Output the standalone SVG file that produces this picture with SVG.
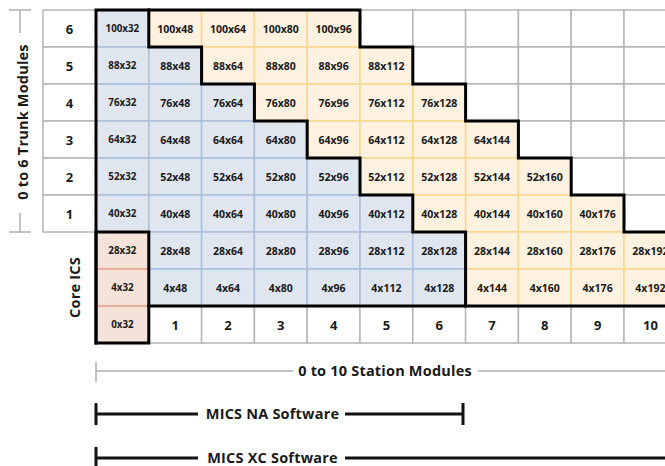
<svg xmlns="http://www.w3.org/2000/svg" width="665" height="466" viewBox="0 0 665 466">
<style>
rect{stroke-width:1.5}
.w{fill:#ffffff;stroke:#b5b5b5}
.o{fill:#fdf1e0;stroke:#f7d88e}
.b{fill:#dfe6ef;stroke:#a9c0dd}
.p{fill:#f5e2d8;stroke:#e7a28f}
text{font-family:"Open Sans","Liberation Sans",sans-serif;fill:#1a1a1a;text-anchor:middle}
.t{font-size:10.5px;font-weight:700;dominant-baseline:central}
.s{font-size:9.8px;font-weight:700}
.n{font-size:13px;font-weight:700;dominant-baseline:central}
.lbl{font-size:14.5px;font-weight:700;letter-spacing:0.2px}
.thick{fill:none;stroke:#000;stroke-width:3;stroke-linejoin:miter;stroke-linecap:square}
.grey{fill:none;stroke:#b0b0b0;stroke-width:1.5}
.blk{fill:none;stroke:#111;stroke-width:3}
</style>

<g id="row-labels">
<g id="rl6"><rect class="w" x="43" y="10" width="53" height="37"/><text class="n" x="69.5" y="28.5">6</text></g>
<g id="rl5"><rect class="w" x="43" y="47" width="53" height="37"/><text class="n" x="69.5" y="65.5">5</text></g>
<g id="rl4"><rect class="w" x="43" y="84" width="53" height="37"/><text class="n" x="69.5" y="102.5">4</text></g>
<g id="rl3"><rect class="w" x="43" y="121" width="53" height="37"/><text class="n" x="69.5" y="139.5">3</text></g>
<g id="rl2"><rect class="w" x="43" y="158" width="53" height="37"/><text class="n" x="69.5" y="176.5">2</text></g>
<g id="rl1"><rect class="w" x="43" y="195" width="53" height="37"/><text class="n" x="69.5" y="213.5">1</text></g>
</g>

<g id="white-cells">
<rect class="w" x="360" y="10" width="52.8" height="37"/>
<rect class="w" x="412.8" y="10" width="52.8" height="37"/>
<rect class="w" x="465.6" y="10" width="52.8" height="37"/>
<rect class="w" x="518.4" y="10" width="52.8" height="37"/>
<rect class="w" x="571.2" y="10" width="52.8" height="37"/>
<rect class="w" x="624" y="10" width="52.8" height="37"/>
<rect class="w" x="412.8" y="47" width="52.8" height="37"/>
<rect class="w" x="465.6" y="47" width="52.8" height="37"/>
<rect class="w" x="518.4" y="47" width="52.8" height="37"/>
<rect class="w" x="571.2" y="47" width="52.8" height="37"/>
<rect class="w" x="624" y="47" width="52.8" height="37"/>
<rect class="w" x="465.6" y="84" width="52.8" height="37"/>
<rect class="w" x="518.4" y="84" width="52.8" height="37"/>
<rect class="w" x="571.2" y="84" width="52.8" height="37"/>
<rect class="w" x="624" y="84" width="52.8" height="37"/>
<rect class="w" x="518.4" y="121" width="52.8" height="37"/>
<rect class="w" x="571.2" y="121" width="52.8" height="37"/>
<rect class="w" x="624" y="121" width="52.8" height="37"/>
<rect class="w" x="571.2" y="158" width="52.8" height="37"/>
<rect class="w" x="624" y="158" width="52.8" height="37"/>
<rect class="w" x="624" y="195" width="52.8" height="37"/>
</g>

<g id="station-numbers">
<g id="s1"><rect class="w" x="148.8" y="306" width="52.8" height="37"/><text class="n" x="175.2" y="324.5">1</text></g>
<g id="s2"><rect class="w" x="201.6" y="306" width="52.8" height="37"/><text class="n" x="228" y="324.5">2</text></g>
<g id="s3"><rect class="w" x="254.4" y="306" width="52.8" height="37"/><text class="n" x="280.8" y="324.5">3</text></g>
<g id="s4"><rect class="w" x="307.2" y="306" width="52.8" height="37"/><text class="n" x="333.6" y="324.5">4</text></g>
<g id="s5"><rect class="w" x="360" y="306" width="52.8" height="37"/><text class="n" x="386.4" y="324.5">5</text></g>
<g id="s6"><rect class="w" x="412.8" y="306" width="52.8" height="37"/><text class="n" x="439.2" y="324.5">6</text></g>
<g id="s7"><rect class="w" x="465.6" y="306" width="52.8" height="37"/><text class="n" x="492" y="324.5">7</text></g>
<g id="s8"><rect class="w" x="518.4" y="306" width="52.8" height="37"/><text class="n" x="544.8" y="324.5">8</text></g>
<g id="s9"><rect class="w" x="571.2" y="306" width="52.8" height="37"/><text class="n" x="597.6" y="324.5">9</text></g>
<g id="s10"><rect class="w" x="624" y="306" width="52.8" height="37"/><text class="n" x="650.4" y="324.5">10</text></g>
</g>

<g id="orange-cells">
<g id="c100x48"><rect class="o" x="148.8" y="10" width="52.8" height="37"/><text class="t" x="175.2" y="28.5">100x48</text></g>
<g id="c100x64"><rect class="o" x="201.6" y="10" width="52.8" height="37"/><text class="t" x="228" y="28.5">100x64</text></g>
<g id="c100x80"><rect class="o" x="254.4" y="10" width="52.8" height="37"/><text class="t" x="280.8" y="28.5">100x80</text></g>
<g id="c100x96"><rect class="o" x="307.2" y="10" width="52.8" height="37"/><text class="t" x="333.6" y="28.5">100x96</text></g>
<g id="c88x64"><rect class="o" x="201.6" y="47" width="52.8" height="37"/><text class="t" x="228" y="65.5">88x64</text></g>
<g id="c88x80"><rect class="o" x="254.4" y="47" width="52.8" height="37"/><text class="t" x="280.8" y="65.5">88x80</text></g>
<g id="c88x96"><rect class="o" x="307.2" y="47" width="52.8" height="37"/><text class="t" x="333.6" y="65.5">88x96</text></g>
<g id="c88x112"><rect class="o" x="360" y="47" width="52.8" height="37"/><text class="t" x="386.4" y="65.5">88x112</text></g>
<g id="c76x80"><rect class="o" x="254.4" y="84" width="52.8" height="37"/><text class="t" x="280.8" y="102.5">76x80</text></g>
<g id="c76x96"><rect class="o" x="307.2" y="84" width="52.8" height="37"/><text class="t" x="333.6" y="102.5">76x96</text></g>
<g id="c76x112"><rect class="o" x="360" y="84" width="52.8" height="37"/><text class="t" x="386.4" y="102.5">76x112</text></g>
<g id="c76x128"><rect class="o" x="412.8" y="84" width="52.8" height="37"/><text class="t" x="439.2" y="102.5">76x128</text></g>
<g id="c64x96"><rect class="o" x="307.2" y="121" width="52.8" height="37"/><text class="t" x="333.6" y="139.5">64x96</text></g>
<g id="c64x112"><rect class="o" x="360" y="121" width="52.8" height="37"/><text class="t" x="386.4" y="139.5">64x112</text></g>
<g id="c64x128"><rect class="o" x="412.8" y="121" width="52.8" height="37"/><text class="t" x="439.2" y="139.5">64x128</text></g>
<g id="c64x144"><rect class="o" x="465.6" y="121" width="52.8" height="37"/><text class="t" x="492" y="139.5">64x144</text></g>
<g id="c52x112"><rect class="o" x="360" y="158" width="52.8" height="37"/><text class="t" x="386.4" y="176.5">52x112</text></g>
<g id="c52x128"><rect class="o" x="412.8" y="158" width="52.8" height="37"/><text class="t" x="439.2" y="176.5">52x128</text></g>
<g id="c52x144"><rect class="o" x="465.6" y="158" width="52.8" height="37"/><text class="t" x="492" y="176.5">52x144</text></g>
<g id="c52x160"><rect class="o" x="518.4" y="158" width="52.8" height="37"/><text class="t" x="544.8" y="176.5">52x160</text></g>
<g id="c40x128"><rect class="o" x="412.8" y="195" width="52.8" height="37"/><text class="t" x="439.2" y="213.5">40x128</text></g>
<g id="c40x144"><rect class="o" x="465.6" y="195" width="52.8" height="37"/><text class="t" x="492" y="213.5">40x144</text></g>
<g id="c40x160"><rect class="o" x="518.4" y="195" width="52.8" height="37"/><text class="t" x="544.8" y="213.5">40x160</text></g>
<g id="c40x176"><rect class="o" x="571.2" y="195" width="52.8" height="37"/><text class="t" x="597.6" y="213.5">40x176</text></g>
<g id="c28x144"><rect class="o" x="465.6" y="232" width="52.8" height="37"/><text class="t" x="492" y="250.5">28x144</text></g>
<g id="c28x160"><rect class="o" x="518.4" y="232" width="52.8" height="37"/><text class="t" x="544.8" y="250.5">28x160</text></g>
<g id="c28x176"><rect class="o" x="571.2" y="232" width="52.8" height="37"/><text class="t" x="597.6" y="250.5">28x176</text></g>
<g id="c28x192"><rect class="o" x="624" y="232" width="52.8" height="37"/><text class="t" x="650.4" y="250.5">28x192</text></g>
<g id="c4x144"><rect class="o" x="465.6" y="269" width="52.8" height="37"/><text class="t" x="492" y="287.5">4x144</text></g>
<g id="c4x160"><rect class="o" x="518.4" y="269" width="52.8" height="37"/><text class="t" x="544.8" y="287.5">4x160</text></g>
<g id="c4x176"><rect class="o" x="571.2" y="269" width="52.8" height="37"/><text class="t" x="597.6" y="287.5">4x176</text></g>
<g id="c4x192"><rect class="o" x="624" y="269" width="52.8" height="37"/><text class="t" x="650.4" y="287.5">4x192</text></g>
</g>

<g id="blue-cells">
<g id="c100x32"><rect class="b" x="96" y="10" width="52.8" height="37"/><text class="t s" x="122.4" y="28.5">100x32</text></g>
<g id="c88x32"><rect class="b" x="96" y="47" width="52.8" height="37"/><text class="t s" x="122.4" y="65.5">88x32</text></g>
<g id="c88x48"><rect class="b" x="148.8" y="47" width="52.8" height="37"/><text class="t" x="175.2" y="65.5">88x48</text></g>
<g id="c76x32"><rect class="b" x="96" y="84" width="52.8" height="37"/><text class="t s" x="122.4" y="102.5">76x32</text></g>
<g id="c76x48"><rect class="b" x="148.8" y="84" width="52.8" height="37"/><text class="t" x="175.2" y="102.5">76x48</text></g>
<g id="c76x64"><rect class="b" x="201.6" y="84" width="52.8" height="37"/><text class="t" x="228" y="102.5">76x64</text></g>
<g id="c64x32"><rect class="b" x="96" y="121" width="52.8" height="37"/><text class="t s" x="122.4" y="139.5">64x32</text></g>
<g id="c64x48"><rect class="b" x="148.8" y="121" width="52.8" height="37"/><text class="t" x="175.2" y="139.5">64x48</text></g>
<g id="c64x64"><rect class="b" x="201.6" y="121" width="52.8" height="37"/><text class="t" x="228" y="139.5">64x64</text></g>
<g id="c64x80"><rect class="b" x="254.4" y="121" width="52.8" height="37"/><text class="t" x="280.8" y="139.5">64x80</text></g>
<g id="c52x32"><rect class="b" x="96" y="158" width="52.8" height="37"/><text class="t s" x="122.4" y="176.5">52x32</text></g>
<g id="c52x48"><rect class="b" x="148.8" y="158" width="52.8" height="37"/><text class="t" x="175.2" y="176.5">52x48</text></g>
<g id="c52x64"><rect class="b" x="201.6" y="158" width="52.8" height="37"/><text class="t" x="228" y="176.5">52x64</text></g>
<g id="c52x80"><rect class="b" x="254.4" y="158" width="52.8" height="37"/><text class="t" x="280.8" y="176.5">52x80</text></g>
<g id="c52x96"><rect class="b" x="307.2" y="158" width="52.8" height="37"/><text class="t" x="333.6" y="176.5">52x96</text></g>
<g id="c40x32"><rect class="b" x="96" y="195" width="52.8" height="37"/><text class="t s" x="122.4" y="213.5">40x32</text></g>
<g id="c40x48"><rect class="b" x="148.8" y="195" width="52.8" height="37"/><text class="t" x="175.2" y="213.5">40x48</text></g>
<g id="c40x64"><rect class="b" x="201.6" y="195" width="52.8" height="37"/><text class="t" x="228" y="213.5">40x64</text></g>
<g id="c40x80"><rect class="b" x="254.4" y="195" width="52.8" height="37"/><text class="t" x="280.8" y="213.5">40x80</text></g>
<g id="c40x96"><rect class="b" x="307.2" y="195" width="52.8" height="37"/><text class="t" x="333.6" y="213.5">40x96</text></g>
<g id="c40x112"><rect class="b" x="360" y="195" width="52.8" height="37"/><text class="t" x="386.4" y="213.5">40x112</text></g>
<g id="c28x48"><rect class="b" x="148.8" y="232" width="52.8" height="37"/><text class="t" x="175.2" y="250.5">28x48</text></g>
<g id="c28x64"><rect class="b" x="201.6" y="232" width="52.8" height="37"/><text class="t" x="228" y="250.5">28x64</text></g>
<g id="c28x80"><rect class="b" x="254.4" y="232" width="52.8" height="37"/><text class="t" x="280.8" y="250.5">28x80</text></g>
<g id="c28x96"><rect class="b" x="307.2" y="232" width="52.8" height="37"/><text class="t" x="333.6" y="250.5">28x96</text></g>
<g id="c28x112"><rect class="b" x="360" y="232" width="52.8" height="37"/><text class="t" x="386.4" y="250.5">28x112</text></g>
<g id="c28x128"><rect class="b" x="412.8" y="232" width="52.8" height="37"/><text class="t" x="439.2" y="250.5">28x128</text></g>
<g id="c4x48"><rect class="b" x="148.8" y="269" width="52.8" height="37"/><text class="t" x="175.2" y="287.5">4x48</text></g>
<g id="c4x64"><rect class="b" x="201.6" y="269" width="52.8" height="37"/><text class="t" x="228" y="287.5">4x64</text></g>
<g id="c4x80"><rect class="b" x="254.4" y="269" width="52.8" height="37"/><text class="t" x="280.8" y="287.5">4x80</text></g>
<g id="c4x96"><rect class="b" x="307.2" y="269" width="52.8" height="37"/><text class="t" x="333.6" y="287.5">4x96</text></g>
<g id="c4x112"><rect class="b" x="360" y="269" width="52.8" height="37"/><text class="t" x="386.4" y="287.5">4x112</text></g>
<g id="c4x128"><rect class="b" x="412.8" y="269" width="52.8" height="37"/><text class="t" x="439.2" y="287.5">4x128</text></g>
</g>

<g id="core-cells">
<g id="c28x32"><rect class="p" x="96" y="232" width="52.8" height="37"/><text class="t s" x="122.4" y="250.5">28x32</text></g>
<g id="c4x32"><rect class="p" x="96" y="269" width="52.8" height="37"/><text class="t s" x="122.4" y="287.5">4x32</text></g>
<g id="c0x32"><rect class="p" x="96" y="306" width="52.8" height="37"/><text class="t s" x="122.4" y="324.5">0x32</text></g>
</g>

<g id="connectors">
<path class="thick" d="M96,343 L96,10 L360,10 L360,47 L412.8,47 L412.8,84 L465.6,84 L465.6,121 L518.4,121 L518.4,158 L571.2,158 L571.2,195 L624,195 L624,232 L667,232"/>
<path class="thick" d="M148.8,10 L148.8,47 L201.6,47 L201.6,84 L254.4,84 L254.4,121 L307.2,121 L307.2,158 L360,158 L360,195 L412.8,195 L412.8,232 L465.6,232 L465.6,306"/>
<path class="thick" d="M148.8,306 L667,306"/>
<rect class="thick" x="96" y="232" width="52.8" height="111"/>
<path class="grey" d="M9,10 H31 M20,10 V33 M20,213 V232 M9,232 H31"/>
<path class="grey" d="M96,362 V382 M96,371 H293 M478,371 H665"/>
<path class="blk" d="M96,403 V425 M96,414 H198 M345,414 H463 M463,403 V425"/>
<path class="blk" d="M96,447 V469 M96,458 H198 M345,458 H665"/>
</g>

<g id="labels">
<text class="lbl" transform="translate(27.5,122) rotate(-90)">0 to 6 Trunk Modules</text>
<text class="lbl" transform="translate(79.5,287.5) rotate(-90)">Core ICS</text>
<text class="lbl" x="385" y="376">0 to 10 Station Modules</text>
<text class="lbl" x="272.5" y="419">MICS NA Software</text>
<text class="lbl" x="272.5" y="463">MICS XC Software</text>
</g>
</svg>
